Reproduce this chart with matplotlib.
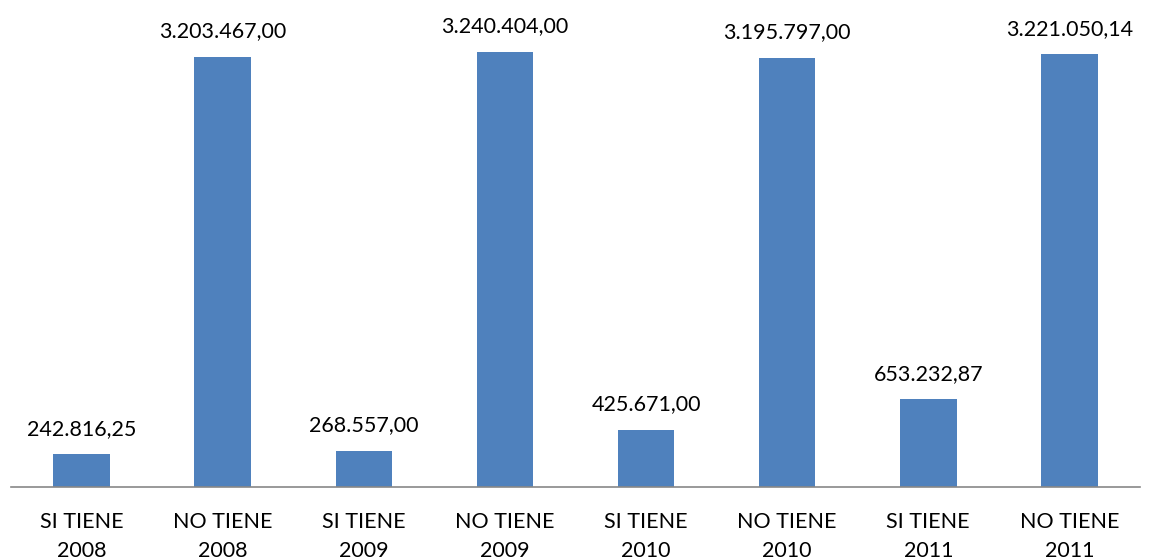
import matplotlib.pyplot as plt

categories = ['SI TIENE\n2008', 'NO TIENE\n2008', 'SI TIENE\n2009', 'NO TIENE\n2009',
              'SI TIENE\n2010', 'NO TIENE\n2010', 'SI TIENE\n2011', 'NO TIENE\n2011']
values = [242816.25, 3203467.00, 268557.00, 3240404.00,
          425671.00, 3195797.00, 653232.87, 3221050.14]
labels = ['242.816,25', '3.203.467,00', '268.557,00', '3.240.404,00',
          '425.671,00', '3.195.797,00', '653.232,87', '3.221.050,14']

plt.rcParams['font.family'] = ['Lato', 'DejaVu Sans']

fig = plt.figure(figsize=(11.49, 5.6), dpi=100)
ax = fig.add_axes([11 / 1149, 73 / 560, 1129 / 1149, 470 / 560])

x = range(len(categories))
ax.bar(x, values, width=0.4, color='#4F81BD')
for i, v in enumerate(values):
    ax.text(i, v + 115000, labels[i], ha='center', va='bottom', fontsize=15.5, color='black')

ax.set_xlim(-0.5, len(categories) - 0.5)
ax.set_ylim(0, 3500000)
ax.set_xticks(list(x))
ax.set_xticklabels(categories, fontsize=15.5, linespacing=1.55)
ax.tick_params(axis='x', length=0, pad=18)
ax.set_yticks([])
for s in ['top', 'right', 'left']:
    ax.spines[s].set_visible(False)
ax.spines['bottom'].set_color('#888888')
ax.spines['bottom'].set_linewidth(1.2)

fig.savefig('out.png', dpi=100)
